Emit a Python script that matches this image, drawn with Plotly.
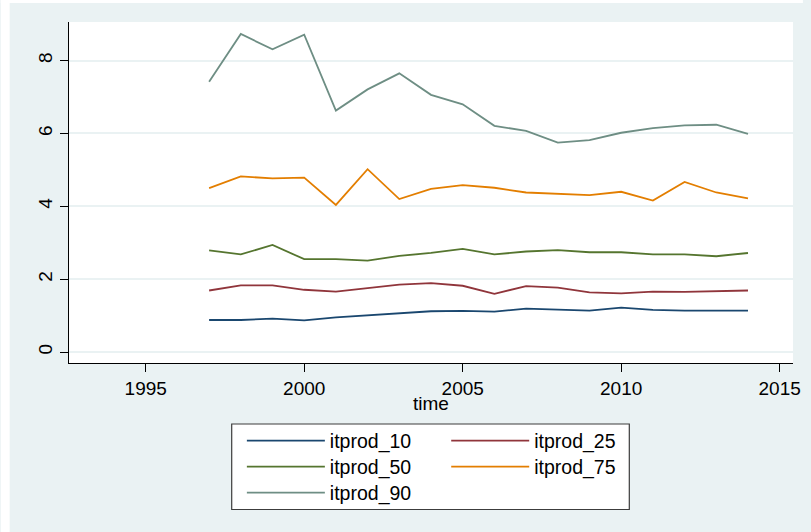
import plotly.graph_objects as go

# Percentiles of IT productivity by year
years = list(range(1997, 2015))
itprod_10 = [0.88, 0.88, 0.92, 0.87, 0.95, 1.01, 1.07, 1.12, 1.13, 1.11, 1.19, 1.17, 1.14, 1.22, 1.16, 1.14, 1.13, 1.14]
itprod_25 = [1.69, 1.83, 1.83, 1.71, 1.66, 1.76, 1.85, 1.89, 1.82, 1.60, 1.81, 1.77, 1.64, 1.61, 1.66, 1.65, 1.67, 1.69]
itprod_50 = [2.79, 2.68, 2.94, 2.55, 2.55, 2.51, 2.64, 2.72, 2.83, 2.68, 2.76, 2.80, 2.74, 2.74, 2.68, 2.68, 2.63, 2.72]
itprod_75 = [4.50, 4.82, 4.77, 4.79, 4.04, 5.02, 4.20, 4.48, 4.58, 4.51, 4.38, 4.34, 4.31, 4.40, 4.16, 4.67, 4.38, 4.22]
itprod_90 = [7.42, 8.73, 8.31, 8.71, 6.63, 7.21, 7.65, 7.06, 6.80, 6.21, 6.07, 5.75, 5.82, 6.02, 6.15, 6.22, 6.24, 5.99]

x_ticks = [1995, 2000, 2005, 2010, 2015]
y_ticks = [0, 2, 4, 6, 8]

BG = "#eaf2f3"
FONT = "Liberation Sans, Arial, sans-serif"

# plot area geometry in pixels (used for paper-coordinate placement)
W, H = 811, 532
L, R, T, B = 69, 10, 22, 169
pw, ph = W - L - R, H - T - B

def px_x(p):
    return (p - L) / pw

def px_y(p):
    return (H - B - p) / ph

# legend grid: two columns, three rows (left/top pixel of each entry)
col_left = [236.7, 443.3]
row_top = [421.5, 447.5, 473.5]

series = [
    ("itprod_10", itprod_10, "#1a476f", 0, 0),
    ("itprod_25", itprod_25, "#90353b", 1, 0),
    ("itprod_50", itprod_50, "#55752f", 0, 1),
    ("itprod_75", itprod_75, "#e37e00", 1, 1),
    ("itprod_90", itprod_90, "#6e8e84", 0, 2),
]

fig = go.Figure()
legends = {}
for i, (name, vals, color, col, row) in enumerate(series):
    key = "legend" if i == 0 else f"legend{i + 1}"
    fig.add_trace(go.Scatter(
        x=years, y=vals, mode="lines", name=name,
        line=dict(color=color, width=1.8),
        legend=key, showlegend=True,
    ))
    legends[key] = dict(
        x=px_x(col_left[col]), y=px_y(row_top[row]),
        xanchor="left", yanchor="top", orientation="v",
        bgcolor="rgba(0,0,0,0)", borderwidth=0, itemwidth=78,
        indentation=7,
        font=dict(family=FONT, size=19.5, color="#000000"),
    )

shapes = [
    # thin white strips along the top and left edge of the page
    dict(type="rect", xref="paper", yref="paper", x0=px_x(0), x1=px_x(9),
         y0=px_y(H), y1=px_y(0), fillcolor="white", line=dict(width=0), layer="below"),
    dict(type="rect", xref="paper", yref="paper", x0=px_x(0), x1=px_x(W),
         y0=px_y(3), y1=px_y(0), fillcolor="white", line=dict(width=0), layer="below"),
    # legend frame
    dict(type="rect", xref="paper", yref="paper", x0=px_x(233.5), x1=px_x(635.5),
         y0=px_y(509.5), y1=px_y(424), fillcolor="white",
         line=dict(color="#3c3c3c", width=1.2), layer="above"),
]

fig.update_layout(
    width=W, height=H,
    margin=dict(l=L, r=R, t=T, b=B),
    paper_bgcolor=BG, plot_bgcolor="white",
    font=dict(family=FONT, size=19, color="#000000"),
    showlegend=True,
    shapes=shapes,
    annotations=[dict(
        text="time", xref="paper", yref="paper", x=0.5, y=px_y(404),
        xanchor="center", yanchor="middle", showarrow=False,
        font=dict(family=FONT, size=19, color="#000000"),
    )],
    xaxis=dict(
        range=[1992.58, 2015.42], tickvals=x_ticks,
        ticktext=[str(v) for v in x_ticks],
        ticks="outside", ticklen=8, tickcolor="#000000", tickwidth=1,
        showline=True, linecolor="#000000", linewidth=1,
        showgrid=False, zeroline=False,
        tickfont=dict(size=19),
    ),
    yaxis=dict(
        range=[-0.30, 9.06], tickvals=y_ticks,
        ticktext=[str(v) for v in y_ticks],
        ticks="outside", ticklen=8, tickcolor="#000000", tickwidth=1,
        tickangle=-90,
        showline=True, linecolor="#000000", linewidth=1,
        showgrid=True, gridcolor=BG, gridwidth=1.5,
        zeroline=False, tickfont=dict(size=19),
    ),
    **legends,
)

fig.write_html("out.html")
